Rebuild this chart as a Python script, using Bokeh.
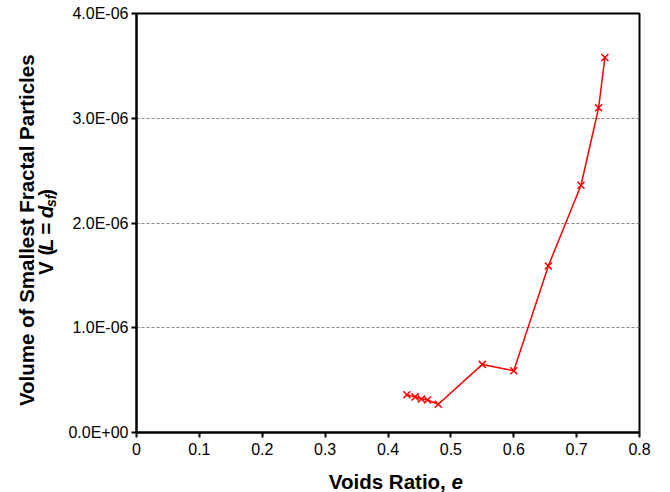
import math
from bokeh.plotting import figure
from bokeh.layouts import row, column
from bokeh.models import Range1d, FixedTicker, CustomJSTickFormatter, Label
from bokeh.embed import file_html
from bokeh.resources import INLINE

# ---- data ----
void_ratio = [0.430, 0.443, 0.453, 0.463, 0.480, 0.550, 0.600, 0.655, 0.707, 0.735, 0.745]
volume = [3.6e-7, 3.4e-7, 3.2e-7, 3.1e-7, 2.7e-7, 6.5e-7, 5.9e-7, 1.59e-6, 2.36e-6, 3.10e-6, 3.58e-6]
x_ticks = [0, 0.1, 0.2, 0.3, 0.4, 0.5, 0.6, 0.7, 0.8]
y_ticks = [0, 1e-6, 2e-6, 3e-6, 4e-6]

W, H = 670, 492
STRIP_W = 60          # left strip holding the y title
BOT_H = 32            # bottom strip holding the x title
MAIN_W = W - STRIP_W
MAIN_H = H - BOT_H
FONT = "Liberation Sans"

p = figure(width=MAIN_W, height=MAIN_H, output_backend="svg", toolbar_location=None,
           x_range=Range1d(0, 0.8), y_range=Range1d(0, 4e-6),
           min_border_left=136 - STRIP_W, min_border_right=31, min_border_top=13,
           min_border_bottom=MAIN_H - 432)
p.background_fill_color = "white"
p.border_fill_color = "white"
p.outline_line_color = "black"
p.outline_line_width = 2

p.xaxis.ticker = FixedTicker(ticks=x_ticks)
p.yaxis.ticker = FixedTicker(ticks=y_ticks)
p.xaxis.formatter = CustomJSTickFormatter(code="return String(Math.round(tick*10)/10);")
p.yaxis.formatter = CustomJSTickFormatter(code="""
const s = tick.toExponential(1);
const parts = s.split('e');
const n = parseInt(parts[1]);
const a = Math.abs(n);
return parts[0] + 'E' + (n < 0 ? '-' : '+') + (a < 10 ? '0' : '') + a;
""")
for ax in (p.xaxis[0], p.yaxis[0]):
    ax.axis_line_width = 2
    ax.axis_line_color = "black"
    ax.major_tick_line_color = "black"
    ax.major_tick_line_width = 2
    ax.major_tick_in = 0
    ax.major_tick_out = 5
    ax.minor_tick_line_color = None
    ax.major_label_text_font = FONT
    ax.major_label_text_font_size = "16px"
    ax.major_label_text_color = "black"
    ax.axis_label = None
p.xaxis.major_label_standoff = 5
p.yaxis.major_label_standoff = 3

p.xgrid.grid_line_color = None
p.ygrid.ticker = FixedTicker(ticks=y_ticks)
p.ygrid.grid_line_color = "#888888"
p.ygrid.grid_line_dash = "3 2"
p.ygrid.grid_line_width = 1

p.line(void_ratio, volume, line_color="red", line_width=1.5)
p.scatter(void_ratio, volume, marker="x", size=10, line_color="red", line_width=1.5)


def strip(w, h):
    f = figure(width=w, height=h, output_backend="svg", toolbar_location=None,
               x_range=Range1d(0, w), y_range=Range1d(h, 0),
               x_axis_location=None, y_axis_location=None,
               min_border=0, min_border_left=0, min_border_right=0,
               min_border_top=0, min_border_bottom=0)
    f.outline_line_color = None
    f.grid.grid_line_color = None
    f.background_fill_color = "white"
    f.border_fill_color = "white"
    return f


def lab(f, x, y, text, style, size="20.5px", angle=0.0, align="left"):
    f.add_layout(Label(x=x, y=y, text=text, angle=angle, text_align=align,
                       text_baseline="middle", text_font=FONT, text_font_size=size,
                       text_font_style=style, text_color="black"))


# left strip: y title
left = strip(STRIP_W, MAIN_H)
lab(left, 26, 238, "Volume of Smallest Fractal Particles", "bold", angle=math.pi / 2, align="center")
# line 2: V (L = d_sf)  -- (text, style, size, x-shift, advance)
pieces = [("V (", "bold", 20.5, 0, 26.2), ("L", "bold italic", 20.5, 0, 12.5 + 5.7),
          ("=", "bold", 20.5, 0, 12.0 + 5.7), ("d", "bold italic", 20.5, 0, 12.5),
          ("sf", "bold italic", 14, 5, 12.4), (")", "bold", 20.5, 0, 6.8)]
pos = 287
for txt, style, fs, shift, adv in pieces:
    lab(left, 45 + shift, pos, txt, style, size=f"{fs}px", angle=math.pi / 2)
    pos -= adv

# bottom strip: x title
bottom = strip(W, BOT_H)
split_px = 451
lab(bottom, split_px, 481 - MAIN_H, "Voids Ratio, ", "bold", align="right")
lab(bottom, split_px, 481 - MAIN_H, "e", "bold italic", align="left")

layout = column(row(left, p, spacing=0), bottom, spacing=0)
open("out.html", "w").write(file_html(layout, INLINE))
